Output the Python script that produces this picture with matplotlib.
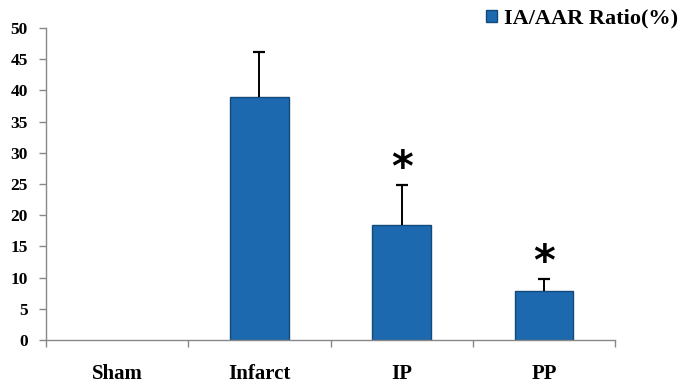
import matplotlib
matplotlib.use("Agg")
import matplotlib.pyplot as plt
from matplotlib.patches import Patch
import numpy as np

categories = ["Sham", "Infarct", "IP", "PP"]
values = [0.0, 38.9, 18.4, 7.8]
errors = [0.0, 7.3, 6.5, 2.0]
significant = [False, False, True, True]
series_name = "IA/AAR Ratio(%)"
yticks = [0, 5, 10, 15, 20, 25, 30, 35, 40, 45, 50]

W, H = 687, 383
fig = plt.figure(figsize=(W / 100, H / 100), dpi=100)
ax = fig.add_axes([46 / W, (H - 340) / H, (615 - 46) / W, (340 - 28) / H])

bar_color = "#1C69B0"
edge_color = "#124A7A"
x = np.arange(len(categories))
for xi, v in zip(x, values):
    if v > 0:
        ax.bar([xi], [v], width=0.41, color=bar_color, edgecolor=edge_color,
               linewidth=1.0, zorder=2)
for xi, v, e in zip(x, values, errors):
    if e > 0:
        ax.vlines([xi], [v], [v + e], color="black", linewidth=1.4, zorder=3)
        ax.plot([xi], [v + e], marker="_", markersize=9, markeredgewidth=1.6,
                color="black", zorder=3)
for xi, v, e, s in zip(x, values, errors, significant):
    if s:
        ax.annotate("*", xy=(xi, v + e), xytext=(0, -4), textcoords="offset points",
                    ha="center", va="bottom", fontsize=30, fontfamily="DejaVu Sans",
                    fontweight="bold", color="black")

ax.set_xlim(-0.5, len(categories) - 0.5)
ax.set_ylim(0, 50)
ax.set_yticks(yticks)
ax.set_yticklabels([str(t) for t in yticks], fontfamily="Liberation Serif",
                   fontweight="bold", fontsize=12.5)
ax.set_xticks(x)
ax.set_xticklabels(categories, fontfamily="Liberation Serif", fontweight="bold",
                   fontsize=15)
ax.set_xticks(np.arange(len(categories) + 1) - 0.5, minor=True)
ax.tick_params(axis="x", which="major", length=0, pad=17)
ax.tick_params(axis="x", which="minor", length=5, color="#888888", width=1)
ax.tick_params(axis="y", length=5, color="#888888", width=1, pad=8)

for side in ["top", "right"]:
    ax.spines[side].set_visible(False)
for side in ["left", "bottom"]:
    ax.spines[side].set_color("#888888")
    ax.spines[side].set_linewidth(1)

handle = Patch(facecolor=bar_color, edgecolor=edge_color)
fig.legend([handle], [series_name], loc="upper right", bbox_to_anchor=(1.0, 1.0),
           frameon=False, prop={"family": "Liberation Serif", "weight": "bold", "size": 16},
           handlelength=0.5, handleheight=0.5, handletextpad=0.3, borderaxespad=0.1,
           borderpad=0.3)

fig.savefig("out.png", dpi=100)
